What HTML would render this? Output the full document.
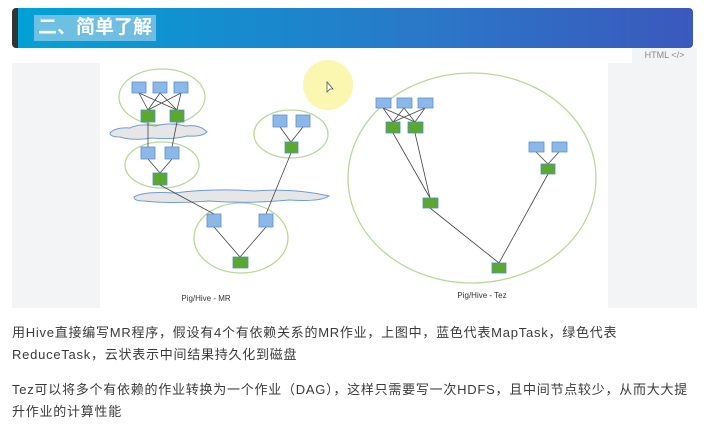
<!DOCTYPE html>
<html><head><meta charset="utf-8"><style>
body{margin:0;width:716px;height:425px;background:#fff;overflow:hidden;font-family:"Liberation Sans","Noto Sans CJK SC",sans-serif;position:relative}
.hdr{position:absolute;left:12px;top:8px;width:681px;height:40px;border-radius:4px;background:linear-gradient(90deg,#00a2d6,#2a78c8 60%,#3b58bc);border-left:6px solid #333;box-sizing:border-box}
.hdr span{position:absolute;left:16px;top:7px;font-size:19px;font-weight:bold;color:#fff;background:rgba(180,215,235,.6);padding:1px 4px;line-height:24px}
.tab{position:absolute;left:632px;top:48px;width:65px;height:15px;background:#f3f4f6;font-size:9px;color:#888;text-align:center;line-height:15px}
.gray{position:absolute;top:63px;height:245px;background:#f3f4f6}
p{position:absolute;left:12px;margin:0;font-size:13px;color:#3a3a3a;line-height:22px;width:700px;letter-spacing:0.75px}
</style></head><body>
<div class="hdr"><span>二、简单了解</span></div>
<div class="tab">HTML &lt;/&gt;</div>
<div class="gray" style="left:12px;width:88px"></div>
<div class="gray" style="left:608px;width:89px"></div>
<svg style="position:absolute;left:0;top:0" width="716" height="425">
<circle cx="328" cy="85" r="25" fill="#fbf6b0"/>
<path d="M327 82 l0 10 l3 -3 l3 0 z" fill="#fff" stroke="#555" stroke-width="0.8"/>
<g fill="none" stroke="#b9d89a" stroke-width="1.3">
<ellipse cx="162" cy="97" rx="43" ry="28"/>
<ellipse cx="162" cy="165" rx="37" ry="23"/>
<ellipse cx="241" cy="238" rx="47" ry="35"/>
<ellipse cx="291" cy="134" rx="37" ry="24"/>
<ellipse cx="472" cy="178" rx="124" ry="105"/>
</g>
<g fill="#e6e6e6" stroke="#6f9bd6" stroke-width="1">
<path d="M110 133 q5 -6 20 -5 q10 -5 25 -2 q15 -4 30 0 q15 -2 22 6 q-5 5 -20 4 q-15 4 -35 2 q-20 3 -32 -1 q-10 0 -10 -4z"/>
<path d="M134 197 q10 -6 40 -4 q40 -5 80 -2 q40 -3 75 5 q-8 6 -40 4 q-40 4 -80 1 q-40 3 -65 0 q-10 0 -10 -4z"/>
</g>
<g stroke="#444" stroke-width="0.8">
<line x1="139" y1="93" x2="148" y2="110"/><line x1="139" y1="93" x2="177" y2="110"/>
<line x1="160" y1="93" x2="148" y2="110"/><line x1="160" y1="93" x2="177" y2="110"/>
<line x1="181" y1="93" x2="148" y2="110"/><line x1="181" y1="93" x2="177" y2="110"/>
<line x1="148" y1="122" x2="148" y2="147"/><line x1="177" y1="122" x2="172" y2="147"/>
<line x1="148" y1="159" x2="160" y2="173"/><line x1="172" y1="159" x2="160" y2="173"/>
<line x1="160" y1="185" x2="214" y2="214"/><line x1="291" y1="153" x2="266" y2="214"/>
<line x1="214" y1="227" x2="240" y2="257"/><line x1="266" y1="227" x2="240" y2="257"/>
<line x1="280" y1="127" x2="291" y2="142"/><line x1="303" y1="127" x2="291" y2="142"/>
<line x1="383" y1="108" x2="393" y2="122"/><line x1="383" y1="108" x2="415" y2="122"/>
<line x1="404" y1="108" x2="393" y2="122"/><line x1="404" y1="108" x2="415" y2="122"/>
<line x1="425" y1="108" x2="393" y2="122"/><line x1="425" y1="108" x2="415" y2="122"/>
<line x1="393" y1="133" x2="430" y2="198"/><line x1="415" y1="133" x2="430" y2="198"/>
<line x1="430" y1="208" x2="499" y2="263"/><line x1="548" y1="174" x2="499" y2="263"/>
<line x1="536" y1="152" x2="548" y2="164"/><line x1="559" y1="152" x2="548" y2="164"/>
</g>
<g fill="#8cb8e8" stroke="#5a8fd0" stroke-width="0.8">
<rect x="132" y="82" width="14" height="11"/><rect x="153" y="82" width="14" height="11"/><rect x="174" y="82" width="14" height="11"/>
<rect x="141" y="147" width="14" height="12"/><rect x="165" y="147" width="14" height="12"/>
<rect x="207" y="214" width="14" height="13"/><rect x="259" y="214" width="14" height="13"/>
<rect x="273" y="115" width="14" height="12"/><rect x="296" y="115" width="14" height="12"/>
<rect x="376" y="98" width="15" height="10"/><rect x="397" y="98" width="15" height="10"/><rect x="418" y="98" width="15" height="10"/>
<rect x="529" y="142" width="15" height="10"/><rect x="552" y="142" width="15" height="10"/>
</g>
<g fill="#5aa82e" stroke="#4f8ec8" stroke-width="0.8">
<rect x="141" y="110" width="14" height="12"/><rect x="170" y="110" width="14" height="12"/>
<rect x="153" y="173" width="14" height="12"/>
<rect x="233" y="257" width="15" height="11"/>
<rect x="285" y="142" width="13" height="11"/>
<rect x="386" y="122" width="14" height="11"/><rect x="408" y="122" width="15" height="11"/>
<rect x="423" y="198" width="15" height="10"/>
<rect x="541" y="164" width="14" height="10"/>
<rect x="492" y="263" width="14" height="10"/>
</g>
<text x="206" y="301" font-size="8" fill="#333" text-anchor="middle" font-family="Liberation Sans,sans-serif">Pig/Hive - MR</text>
<text x="482" y="298" font-size="8" fill="#333" text-anchor="middle" font-family="Liberation Sans,sans-serif">Pig/Hive - Tez</text>
</svg>
<p style="top:322px">用Hive直接编写MR程序，假设有4个有依赖关系的MR作业，上图中，蓝色代表MapTask，绿色代表<br>ReduceTask，云状表示中间结果持久化到磁盘</p>
<p style="top:379px">Tez可以将多个有依赖的作业转换为一个作业（DAG），这样只需要写一次HDFS，且中间节点较少，从而大大提<br>升作业的计算性能</p>
</body></html>
